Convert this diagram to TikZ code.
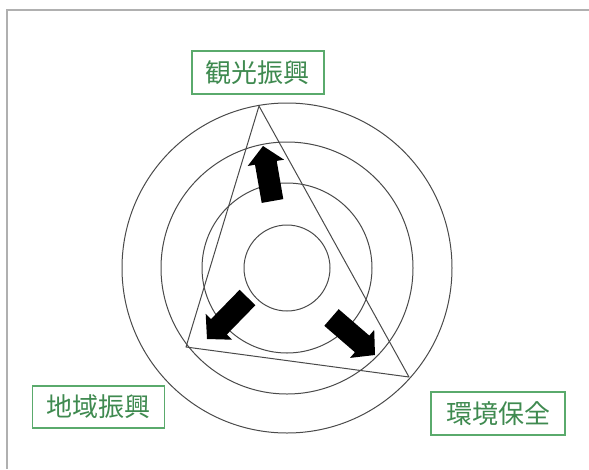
\documentclass[tikz,border=0pt]{standalone}
\usepackage{fontspec}
\newfontfamily\cjk{Noto Sans CJK JP}
\definecolor{boxgreen}{HTML}{5AAA6C}
\definecolor{txtgreen}{HTML}{3F8A50}
\definecolor{ringgray}{HTML}{4A4A4A}
\definecolor{framegray}{HTML}{B0B0B0}
\tikzset{
  ring/.style={draw=ringgray, line width=1pt, circle, inner sep=0pt},
  tri/.style={draw=ringgray, line width=1pt, line join=round},
  lbl/.style={draw=boxgreen, line width=1.6pt, text=txtgreen, font=\cjk\fontsize{26}{26}\selectfont,
              inner sep=0pt, minimum height=43pt},
  blockarrow/.style={fill=black},
  frameline/.style={draw=framegray, line width=1.5pt}
}
\begin{document}
\begin{tikzpicture}[x=1pt,y=-1pt]
\useasboundingbox (0,0) rectangle (589,469);
\fill[white] (0,0) rectangle (589,469);
% frame
\draw[frameline] (7,469) -- (7,10) -- (589,10);
% rings
\coordinate (c) at (287,268);
\node[ring, minimum size=330pt] (r4) at (c) {};
\node[ring, minimum size=252pt] (r3) at (c) {};
\node[ring, minimum size=170pt] (r2) at (c) {};
\node[ring, minimum size=86pt] (r1) at (c) {};
% triangle
\coordinate (ta) at (259,106);
\coordinate (tb) at (186,347);
\coordinate (tc) at (409,377);
\draw[tri] (ta) -- (tb) -- (tc) -- cycle;
% block arrows
\fill[blockarrow] (283.3,199.1) -- (261.7,202.9) -- (255.0,164.7) -- (247.7,166.0) -- (263,146) -- (284.1,159.7) -- (276.7,160.9) -- cycle;
\fill[blockarrow] (255.4,305.2) -- (239.6,289.8) -- (211.0,319.1) -- (205.7,313.9) -- (207,339) -- (232.1,339.7) -- (226.8,334.5) -- cycle;
\fill[blockarrow] (324.3,325.8) -- (338.7,309.2) -- (369.3,335.6) -- (374.2,329.9) -- (375,355) -- (350.0,357.9) -- (354.9,352.2) -- cycle;
% labels
\node[lbl, minimum width=132pt] (kanko) at (257.7,72.7) {観光振興};
\node[lbl, minimum width=132pt, minimum height=42pt] (chiiki) at (98.3,407) {地域振興};
\node[lbl, minimum width=134pt] (kankyo) at (498,413.5) {環境保全};
\end{tikzpicture}
\end{document}
